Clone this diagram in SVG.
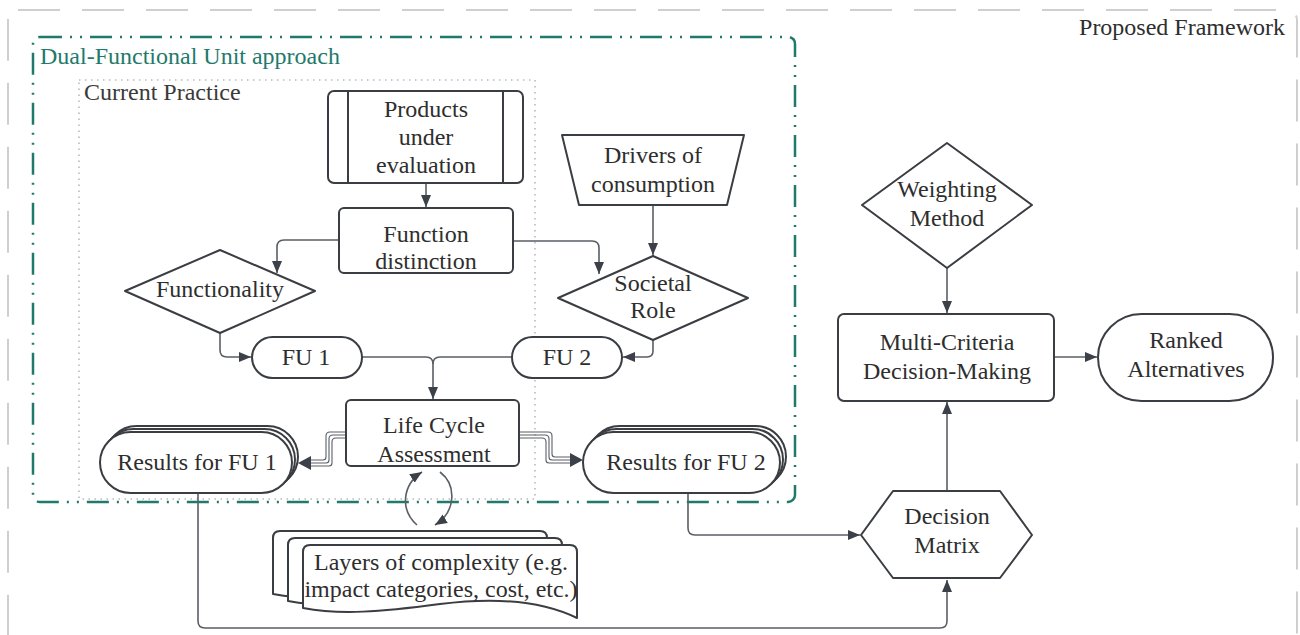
<svg xmlns="http://www.w3.org/2000/svg" width="1300" height="635" viewBox="0 0 1300 635">
<defs>
<style>
.node{fill:#fff;stroke:#3a3d42;stroke-width:2;stroke-linejoin:round}
.t{font-family:'Liberation Serif','Times New Roman','DejaVu Serif',serif;font-size:24px;fill:#2e2e2e;text-anchor:middle}
.tl{font-family:'Liberation Serif','Times New Roman','DejaVu Serif',serif;font-size:24px;fill:#2e2e2e}
.c{fill:none;stroke:#5a5f66;stroke-width:1.6}
.c3{fill:none;stroke:#5a5f66;stroke-width:1.1}
.ah{fill:#3b4049}
</style>
<marker id="arr" viewBox="0 0 12 10" markerWidth="12" markerHeight="10" refX="12" refY="5" orient="auto" markerUnits="userSpaceOnUse">
<path d="M0,0 L12,5 L0,10 Z" class="ah"/>
</marker>
</defs>
<rect width="1300" height="635" fill="#fff"/>

<g id="frame-proposed">
<rect x="8" y="10" width="1289" height="700" rx="10" fill="none" stroke="#cfcfcf" stroke-width="2" stroke-dasharray="42 22"/>
<text class="tl" x="1285" y="35" text-anchor="end" style="text-anchor:end">Proposed Framework</text>
</g>
<g id="frame-dual">
<rect x="33" y="37" width="762" height="465" rx="7" fill="none" stroke="#1f7a6c" stroke-width="2.5" stroke-dasharray="22 8 2 8 2 8"/>
<text class="tl" x="40" y="64" style="fill:#1f7a6c">Dual-Functional Unit approach</text>
</g>
<g id="frame-current">
<rect x="79" y="80" width="456" height="419" fill="none" stroke="#b9b9b9" stroke-width="1.6" stroke-dasharray="1.5 4.5"/>
<text class="tl" x="84" y="100" style="fill:#3a3a3a">Current Practice</text>
</g>

<g id="connectors">
<path class="c" d="M426,183 V207" marker-end="url(#arr)"/>
<path class="c" d="M339,240 H284 Q277,240 277,247 V273" marker-end="url(#arr)"/>
<path class="c" d="M513,241 H592 Q599,241 599,248 V274" marker-end="url(#arr)"/>
<path class="c" d="M653,205 V255" marker-end="url(#arr)"/>
<path class="c" d="M220,333 V350 Q220,357 227,357 H251" marker-end="url(#arr)"/>
<path class="c" d="M653,340 V351 Q653,357 647,357 H623" marker-end="url(#arr)"/>
<path class="c" d="M362,357 H426 Q433,357 433,364 V399" marker-end="url(#arr)"/>
<path class="c" d="M512,357 H440 Q433,357 433,364"/>
<path class="c3" d="M346,432 H330 Q326,432 326,436 V457 Q326,460 323,460 H306"/>
<path class="c3" d="M346,435 H333 Q329,435 329,439 V460 Q329,463 326,463 H306"/>
<path class="c3" d="M346,438 H336 Q332,438 332,442 V463 Q332,466 329,466 H306"/>
<polygon class="ah" points="298,463 311,456 311,470"/>
<path class="c3" d="M519,432 H548 Q552,432 552,436 V454 Q552,457 555,457 H574"/>
<path class="c3" d="M519,435 H545 Q549,435 549,439 V457 Q549,460 552,460 H574"/>
<path class="c3" d="M519,438 H542 Q546,438 546,442 V460 Q546,463 549,463 H574"/>
<polygon class="ah" points="583,460 570,453 570,467"/>
<path class="c" d="M417,525 C400,510 402,485 422,472" marker-end="url(#arr)"/>
<path class="c" d="M440,472 C457,485 456,512 435,525" marker-end="url(#arr)"/>
<path class="c" d="M688,493 V528 Q688,535 695,535 H860" marker-end="url(#arr)"/>
<path class="c" d="M198,493 V621 Q198,628 205,628 H940 Q947,628 947,621 V580" marker-end="url(#arr)"/>
<path class="c" d="M947,491 V402" marker-end="url(#arr)"/>
<path class="c" d="M947,268 V313" marker-end="url(#arr)"/>
<path class="c" d="M1054,357 H1097" marker-end="url(#arr)"/>
</g>

<g id="products">
<rect class="node" x="328" y="91" width="195" height="92" rx="6"/>
<line class="node" x1="348" y1="91" x2="348" y2="183"/>
<line class="node" x1="503" y1="91" x2="503" y2="183"/>
<text class="t" x="426" y="117">Products</text>
<text class="t" x="426" y="145">under</text>
<text class="t" x="426" y="173">evaluation</text>
</g>
<g id="function-distinction">
<rect class="node" x="339" y="208" width="174" height="65" rx="5"/>
<text class="t" x="426" y="242">Function</text>
<text class="t" x="426" y="269">distinction</text>
</g>
<g id="drivers">
<path class="node" d="M562,135 H744 L727,205 H579 Z"/>
<text class="t" x="653" y="163">Drivers of</text>
<text class="t" x="653" y="192">consumption</text>
</g>
<g id="functionality">
<path class="node" d="M220,250 L315,291 L220,333 L125,291 Z"/>
<text class="t" x="220" y="297">Functionality</text>
</g>
<g id="societal-role">
<path class="node" d="M653,256 L748,298 L653,340 L558,298 Z"/>
<text class="t" x="653" y="291">Societal</text>
<text class="t" x="653" y="318">Role</text>
</g>
<g id="fu1">
<rect class="node" x="252" y="337" width="110" height="41" rx="20.5"/>
<text class="t" x="306" y="365">FU 1</text>
</g>
<g id="fu2">
<rect class="node" x="512" y="337" width="110" height="41" rx="20.5"/>
<text class="t" x="567" y="365">FU 2</text>
</g>
<g id="lca">
<rect class="node" x="346" y="400" width="173" height="66" rx="5"/>
<text class="t" x="434" y="433">Life Cycle</text>
<text class="t" x="434" y="462">Assessment</text>
</g>
<g id="results-fu1">
<rect class="node" x="106" y="426" width="192" height="61" rx="30.5"/>
<rect class="node" x="103" y="429" width="192" height="61" rx="30.5"/>
<rect class="node" x="100" y="432" width="192" height="61" rx="30.5"/>
<text class="t" x="197" y="470">Results for FU 1</text>
</g>
<g id="results-fu2">
<rect class="node" x="589" y="426" width="197" height="61" rx="30.5"/>
<rect class="node" x="586" y="429" width="197" height="61" rx="30.5"/>
<rect class="node" x="583" y="432" width="197" height="61" rx="30.5"/>
<text class="t" x="686" y="470">Results for FU 2</text>
</g>
<g id="layers">
<path class="node" transform="translate(-30,-14)" d="M303,552 Q303,545 310,545 H570 Q577,545 577,552 V618 C540,600 495,597 440,604 C380,612 340,615 303,608 Z"/>
<path class="node" transform="translate(-15,-7)" d="M303,552 Q303,545 310,545 H570 Q577,545 577,552 V618 C540,600 495,597 440,604 C380,612 340,615 303,608 Z"/>
<path class="node" d="M303,552 Q303,545 310,545 H570 Q577,545 577,552 V618 C540,600 495,597 440,604 C380,612 340,615 303,608 Z"/>
<text class="t" x="441" y="570">Layers of complexity (e.g.</text>
<text class="t" x="441" y="597">impact categories, cost, etc.)</text>
</g>
<g id="decision-matrix">
<path class="node" d="M861,535 L893,491 H1000 L1032,535 L1000,578 H893 Z"/>
<text class="t" x="947" y="524">Decision</text>
<text class="t" x="947" y="553">Matrix</text>
</g>
<g id="weighting">
<path class="node" d="M947,143 L1032,205 L947,268 L862,205 Z"/>
<text class="t" x="947" y="197">Weighting</text>
<text class="t" x="947" y="226">Method</text>
</g>
<g id="mcdm">
<rect class="node" x="838" y="314" width="216" height="87" rx="6"/>
<text class="t" x="947" y="350">Multi-Criteria</text>
<text class="t" x="947" y="379">Decision-Making</text>
</g>
<g id="ranked">
<rect class="node" x="1098" y="314" width="175" height="87" rx="43.5"/>
<text class="t" x="1186" y="348">Ranked</text>
<text class="t" x="1186" y="377">Alternatives</text>
</g>
</svg>
